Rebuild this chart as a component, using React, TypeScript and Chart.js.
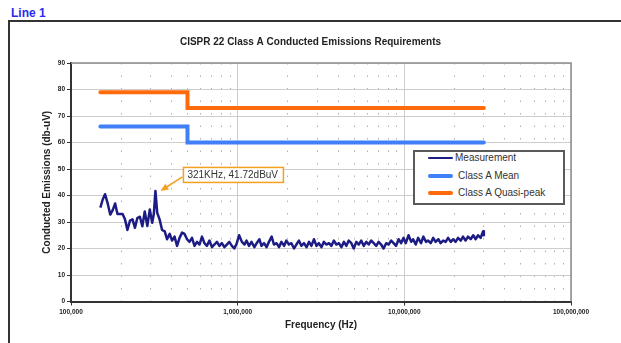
import React, { useEffect, useRef } from 'react';
import { Chart, registerables } from 'chart.js';

Chart.register(...registerables);

const FONT = '"Liberation Sans", Arial, Helvetica, sans-serif';

const pageLabel = 'Line 1';
const chartTitle = 'CISPR 22 Class A Conducted Emissions Requirements';
const xAxisTitle = 'Frequency (Hz)';
const yAxisTitle = 'Conducted Emissions (db-uV)';
const seriesNames = ['Measurement', 'Class A Mean', 'Class A Quasi-peak'];
const seriesColors = ['#1c1c84', '#3f7ff7', '#ff6a0a'];

const measFreqKHz = [
  150, 155, 160, 166, 172, 178, 184, 190, 197, 204,
  211, 218, 226, 234, 242, 250, 259, 268, 277, 287,
  297, 307, 314, 321, 329, 340, 352, 365, 377, 391,
  404, 418, 433, 448, 464, 480, 497, 514, 532, 551,
  570, 590, 611, 632, 654, 677, 701, 725, 751, 777,
  804, 832, 861, 891, 923, 955, 988, 1020, 1060, 1100,
  1130, 1170, 1210, 1260, 1300, 1350, 1390, 1440, 1490, 1540,
  1600, 1650, 1710, 1770, 1830, 1900, 1960, 2030, 2100, 2180,
  2250, 2330, 2410, 2500, 2590, 2680, 2770, 2870, 2970, 3070,
  3180, 3290, 3410, 3530, 3650, 3780, 3910, 4050, 4190, 4340,
  4490, 4640, 4810, 4970, 5150, 5330, 5510, 5710, 5910, 6110,
  6330, 6550, 6780, 7010, 7260, 7510, 7780, 8050, 8330, 8620,
  8920, 9240, 9560, 9890, 10200, 10600, 11000, 11300, 11700, 12100,
  12600, 13000, 13500, 13900, 14400, 14900, 15400, 16000, 16500, 17100,
  17700, 18300, 19000, 19600, 20300, 21000, 21800, 22500, 23300, 24100,
  25000, 25900, 26800, 27700, 28700, 29700, 30000,
];
const measLevel = [
  35.4, 38.5, 40.5, 37, 32.8, 34.5, 37, 33, 33, 33,
  30.9, 27, 30.5, 31, 27.8, 31.5, 32, 28.4, 34, 28.5,
  34.7, 29.7, 33, 41.72, 33.5, 31, 27, 26.5, 23.5, 25.5,
  23, 24.5, 21, 24, 26, 25.5, 23.5, 22.5, 24, 21,
  22.5, 21.5, 24.5, 22, 21, 23, 20.5, 21.5, 22.5, 21,
  22, 20.5, 21.5, 22.5, 21, 20, 22, 25, 22.5, 21.5,
  23, 21, 22.5, 20.5, 22, 23.5, 21, 22, 20.5, 22.5,
  24.5, 21.5, 22, 20.5, 22.5, 21, 23, 21.5, 22, 20,
  21.5, 23, 21, 22, 20.5, 22.5, 21, 23.5, 21, 22,
  20.5, 22.5, 21.5, 22, 21, 23, 21.5, 22, 20.5, 22.5,
  21, 23, 22, 20, 22.5, 21.5, 23, 21, 22.5, 21.5,
  23, 22, 21, 22.5, 21.5, 20, 22, 21.5, 23, 22,
  21, 23.5, 22, 24, 22, 25, 22.5, 23.5, 21.5, 24,
  22, 24.5, 22.5, 23, 22, 24, 22.5, 23.5, 22, 23,
  22.5, 24, 22.5, 23.5, 22.5, 24, 23, 24.5, 23, 24.5,
  23.5, 25, 23.5, 25, 24, 26.5, 25,
];

const meanFreqHz = [150000, 500000, 500000, 30000000];
const meanLevel = [66, 66, 60, 60];
const qpFreqHz = [150000, 500000, 500000, 30000000];
const qpLevel = [79, 79, 73, 73];

const xMajorTicks = [100000, 1000000, 10000000, 100000000];
const xMinorTicks = [
  200000, 300000, 400000, 500000, 600000, 700000, 800000, 900000,
  2000000, 3000000, 4000000, 5000000, 6000000, 7000000, 8000000, 9000000,
  20000000, 30000000, 40000000, 50000000, 60000000, 70000000, 80000000, 90000000,
];
const yMin = 0;
const yMax = 90;
const yStep = 10;

const peakFreqHz = 321000;
const peakLevel = 41.72;
const peakLabel = '321KHz, 41.72dBuV';
const annotColor = '#f5a020';

const overlayPlugin = {
  id: 'overlay',
  beforeDatasetsDraw(chart: any) {
    const { ctx, chartArea: a } = chart;
    ctx.save();
    ctx.strokeStyle = '#8c8c8c';
    ctx.lineWidth = 1.5;
    ctx.beginPath();
    ctx.moveTo(a.left, a.top);
    ctx.lineTo(a.right, a.top);
    ctx.lineTo(a.right, a.bottom);
    ctx.stroke();
    ctx.restore();
  },
  afterDatasetsDraw(chart: any) {
    const { ctx } = chart;
    const px = chart.scales.x.getPixelForValue(peakFreqHz);
    const py = chart.scales.y.getPixelForValue(peakLevel);
    ctx.save();
    const tx = px + 5, ty = py;
    const sx = px + 27, sy = py - 14;
    const ang = Math.atan2(ty - sy, tx - sx);
    ctx.strokeStyle = annotColor;
    ctx.fillStyle = annotColor;
    ctx.lineWidth = 1.5;
    ctx.beginPath();
    ctx.moveTo(sx, sy);
    ctx.lineTo(tx - 5 * Math.cos(ang), ty - 5 * Math.sin(ang));
    ctx.stroke();
    ctx.beginPath();
    ctx.moveTo(tx, ty);
    ctx.lineTo(tx - 8 * Math.cos(ang) + 3.5 * Math.sin(ang), ty - 8 * Math.sin(ang) - 3.5 * Math.cos(ang));
    ctx.lineTo(tx - 8 * Math.cos(ang) - 3.5 * Math.sin(ang), ty - 8 * Math.sin(ang) + 3.5 * Math.cos(ang));
    ctx.closePath();
    ctx.fill();
    const bx = px + 28, by = py - 23.5, bw = 100, bh = 15;
    ctx.fillStyle = '#ffffff';
    ctx.fillRect(bx, by, bw, bh);
    ctx.strokeRect(bx, by, bw, bh);
    ctx.fillStyle = '#333333';
    ctx.font = `10px ${FONT}`;
    ctx.textBaseline = 'middle';
    ctx.textAlign = 'left';
    ctx.fillText(peakLabel, bx + 4, by + bh / 2 + 0.5);
    ctx.restore();
  },
};

export default function App() {
  const canvasRef = useRef<HTMLCanvasElement | null>(null);

  useEffect(() => {
    if (!canvasRef.current) return;
    const tickFont = { family: FONT, size: 6.5, weight: 'bold' as const };
    const titleFont = { family: FONT, size: 10, weight: 'bold' as const };
    const chart = new Chart(canvasRef.current, {
      type: 'line',
      data: {
        datasets: [
          {
            label: seriesNames[0],
            data: measFreqKHz.map((f, i) => ({ x: f * 1000, y: measLevel[i] })),
            borderColor: seriesColors[0],
            borderWidth: 2.5,
            borderJoinStyle: 'round',
            pointRadius: 0,
            tension: 0,
            xAxisID: 'x',
            yAxisID: 'y',
          },
          {
            label: seriesNames[1],
            data: meanFreqHz.map((f, i) => ({ x: f, y: meanLevel[i] })),
            borderColor: seriesColors[1],
            borderWidth: 4,
            borderCapStyle: 'round',
            pointRadius: 0,
            xAxisID: 'x',
            yAxisID: 'y',
          },
          {
            label: seriesNames[2],
            data: qpFreqHz.map((f, i) => ({ x: f, y: qpLevel[i] })),
            borderColor: seriesColors[2],
            borderWidth: 4,
            borderCapStyle: 'round',
            pointRadius: 0,
            xAxisID: 'x',
            yAxisID: 'y',
          },
        ],
      },
      options: {
        responsive: false,
        animation: false,
        devicePixelRatio: 1,
        layout: { padding: 0 },
        plugins: {
          legend: { display: false },
          tooltip: { enabled: false },
          title: {
            display: true,
            text: chartTitle,
            font: titleFont,
            color: '#222',
            padding: { top: 36, bottom: 15 },
          },
        },
        scales: {
          x: {
            type: 'logarithmic',
            position: 'bottom',
            min: xMajorTicks[0],
            max: xMajorTicks[xMajorTicks.length - 1],
            afterBuildTicks: (s: any) => {
              s.ticks = xMajorTicks.map((v) => ({ value: v }));
            },
            afterFit: (s: any) => {
              s.height = 41.5;
            },
            ticks: {
              autoSkip: false,
              maxRotation: 0,
              padding: 3,
              font: tickFont,
              color: '#222',
              callback: (v: any) => Number(v).toLocaleString('en-US'),
            },
            grid: { color: '#cdcdcd', lineWidth: 1, tickLength: 4, tickColor: '#333', tickWidth: 1 },
            border: { color: '#333', width: 2 },
            title: { display: true, text: xAxisTitle, font: titleFont, color: '#222', padding: { top: 0, bottom: 12 } },
          },
          x2: {
            type: 'logarithmic',
            axis: 'x',
            position: 'top',
            min: xMajorTicks[0],
            max: xMajorTicks[xMajorTicks.length - 1],
            afterBuildTicks: (s: any) => {
              s.ticks = xMinorTicks.map((v) => ({ value: v }));
            },
            afterFit: (s: any) => {
              s.height = 0;
            },
            ticks: { display: false },
            grid: { color: '#b0b0b0', lineWidth: 1, drawTicks: false },
            border: { display: false, dash: [1.5, 11] },
          },
          y: {
            type: 'linear',
            position: 'left',
            min: yMin,
            max: yMax,
            afterFit: (s: any) => {
              s.width = 71;
            },
            ticks: { stepSize: yStep, font: tickFont, color: '#222', padding: 2 },
            grid: { color: '#cdcdcd', lineWidth: 1, tickLength: 4, tickColor: '#333', tickWidth: 1 },
            border: { color: '#333', width: 2 },
            title: { display: true, text: yAxisTitle, font: titleFont, color: '#222', padding: { top: 41, bottom: 0 } },
          },
          y2: {
            type: 'linear',
            position: 'right',
            min: yMin,
            max: yMax,
            afterFit: (s: any) => {
              s.width = 50;
            },
            ticks: { display: false },
            grid: { display: false },
            border: { display: false },
          },
        },
      } as any,
      plugins: [overlayPlugin],
    });
    return () => chart.destroy();
  }, []);

  const legendRows = [
    { top: 158, w: 2.5, textLeft: 455 },
    { top: 176, w: 4, textLeft: 458 },
    { top: 193, w: 4, textLeft: 458 },
  ];

  return (
    <div
      style={{
        position: 'fixed',
        left: 0,
        top: 0,
        width: 621,
        height: 343,
        overflow: 'hidden',
        background: '#ffffff',
      }}
    >
      <div
        style={{
          position: 'absolute',
          left: 11,
          top: 6,
          font: `bold 12px ${FONT}`,
          lineHeight: '14px',
          color: '#2b2bf0',
        }}
      >
        {pageLabel}
      </div>
      <div
        style={{
          position: 'absolute',
          left: 8,
          top: 20,
          width: 700,
          height: 400,
          border: '2px solid #333',
          boxSizing: 'border-box',
        }}
      />
      <canvas
        ref={canvasRef}
        width={621}
        height={343}
        style={{ position: 'absolute', left: 0, top: 0, width: 621, height: 343 }}
      />
      <div
        style={{
          position: 'absolute',
          left: 413,
          top: 150,
          width: 152,
          height: 55,
          border: '2px solid #5a5a5a',
          boxSizing: 'border-box',
          background: '#ffffff',
        }}
      />
      {legendRows.map((r, i) => (
        <React.Fragment key={seriesNames[i]}>
          <div
            style={{
              position: 'absolute',
              left: 428,
              top: r.top - r.w / 2,
              width: 25,
              height: r.w,
              borderRadius: r.w / 2,
              background: seriesColors[i],
            }}
          />
          <div
            style={{
              position: 'absolute',
              left: r.textLeft,
              top: r.top - 7,
              font: `10px ${FONT}`,
              lineHeight: '14px',
              color: '#333',
              whiteSpace: 'nowrap',
            }}
          >
            {seriesNames[i]}
          </div>
        </React.Fragment>
      ))}
    </div>
  );
}
